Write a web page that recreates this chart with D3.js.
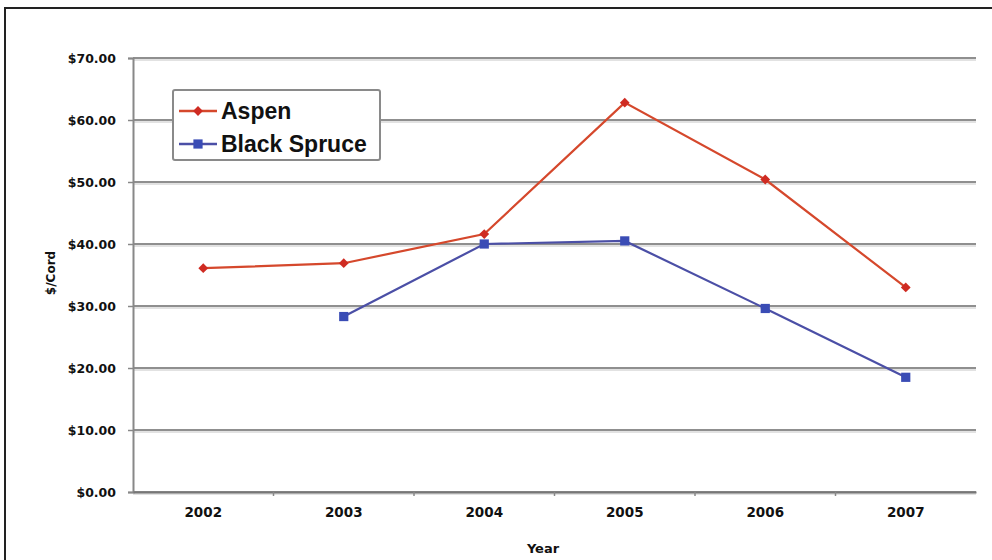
<!DOCTYPE html>
<html>
<head>
<meta charset="utf-8">
<script src="https://cdn.jsdelivr.net/npm/d3@7/dist/d3.min.js"></script>
<style>
  html, body { margin: 0; padding: 0; background: #fff; }
  svg { display: block; }
  text { font-family: "Liberation Sans", Arial, sans-serif; font-weight: bold; fill: #111; }
</style>
</head>
<body>
<svg id="chart" width="992" height="560"></svg>
<script>
// Stumpage price per cord, by year
const years = ["2002", "2003", "2004", "2005", "2006", "2007"];
const aspen = [36.1, 36.9, 41.6, 62.8, 50.4, 33.0];
const blackSpruce = [null, 28.3, 40.0, 40.5, 29.6, 18.5];
const yTicks = [0, 10, 20, 30, 40, 50, 60, 70];
const seriesNames = ["Aspen", "Black Spruce"];
const seriesColors = ["#d5482c", "#4b4fa6"];
const markerColors = ["#cf2b22", "#3a4cb5"];

const svg = d3.select("#chart");
const margin = { left: 133, right: 16, top: 58, bottom: 68 };
const W = 992, H = 560;
const tickFont = "'DejaVu Sans', Verdana, sans-serif";

// outer frame (runs off the right and bottom edges)
svg.append("path")
  .attr("d", "M5,562 L5,8 L994,8")
  .attr("fill", "none").attr("stroke", "#222").attr("stroke-width", 2);

const x = d3.scaleBand().domain(years)
  .range([margin.left, W - margin.right]);
const y = d3.scaleLinear().domain([0, 70])
  .range([H - margin.bottom, margin.top]);

// gridlines with a soft shadow
const grid = svg.append("g");
grid.selectAll("line.sh").data(yTicks).join("line")
  .attr("x1", margin.left).attr("x2", W - margin.right)
  .attr("y1", d => y(d) + 2).attr("y2", d => y(d) + 2)
  .attr("stroke", "#d8d8d8").attr("stroke-width", 1.5);
grid.selectAll("line.g").data(yTicks).join("line")
  .attr("x1", margin.left).attr("x2", W - margin.right)
  .attr("y1", d => y(d)).attr("y2", d => y(d))
  .attr("stroke", "#8f8f8f").attr("stroke-width", 2.2);

// y axis
const yAxis = d3.axisLeft(y).tickValues(yTicks)
  .tickFormat(d => "$" + d3.format(".2f")(d)).tickSize(5).tickPadding(12);
const gy = svg.append("g").attr("transform", `translate(${margin.left},0)`).call(yAxis);
gy.select(".domain").attr("stroke", "#888").attr("stroke-width", 2);
gy.selectAll(".tick line").attr("stroke", "#888").attr("stroke-width", 1.5);
gy.selectAll(".tick text").style("font-size", "12.5px").style("font-weight", "bold")
  .style("fill", "#111").style("font-family", tickFont);

// x axis: ticks between categories
const xAxis = d3.axisBottom(x).tickSize(0).tickPadding(15);
const gx = svg.append("g").attr("transform", `translate(0,${y(0)})`).call(xAxis);
gx.select(".domain").attr("stroke", "#777").attr("stroke-width", 2);
gx.selectAll(".tick text").style("font-size", "13.5px").style("font-weight", "bold")
  .style("fill", "#111").style("font-family", tickFont);
gx.selectAll("line.sep").data(years.slice(1)).join("line")
  .attr("x1", d => x(d)).attr("x2", d => x(d))
  .attr("y1", 0).attr("y2", 4)
  .attr("stroke", "#888").attr("stroke-width", 1.5);

// axis titles
svg.append("text").attr("x", 543).attr("y", 553)
  .attr("text-anchor", "middle").style("font-family", tickFont)
  .style("font-size", "13px").text("Year");
svg.append("text")
  .attr("transform", `translate(55,${(y(0) + y(70)) / 2 - 2}) rotate(-90)`)
  .attr("text-anchor", "middle").style("font-family", tickFont)
  .style("font-size", "12px").text("$/Cord");

// marker shapes: a small diamond (rotated square) and a square
function marker(sel, i) {
  if (i === 0) {
    sel.attr("d", d3.symbol().type(d3.symbolSquare).size(48)())
      .attr("transform", function () { return d3.select(this).attr("transform") + " rotate(45)"; });
  } else {
    sel.attr("d", d3.symbol().type(d3.symbolSquare).size(85)());
  }
  sel.attr("fill", markerColors[i]);
}

// series
const cx = d => x(d) + x.bandwidth() / 2;
const series = [aspen, blackSpruce];
const line = d3.line().defined(d => d.v != null).x(d => cx(d.year)).y(d => y(d.v));

series.forEach((vals, i) => {
  const pts = years.map((yr, j) => ({ year: yr, v: vals[j] }));
  svg.append("path").datum(pts)
    .attr("d", line).attr("fill", "none")
    .attr("stroke", seriesColors[i]).attr("stroke-width", 2.2);
  const valid = pts.filter(d => d.v != null);
  svg.selectAll(null).data(valid).join("path")
    .attr("transform", d => `translate(${cx(d.year)},${y(d.v)})`)
    .call(marker, i);
});

// legend
const lg = svg.append("g").attr("transform", "translate(173,90)");
lg.append("rect").attr("width", 207).attr("height", 70).attr("rx", 2)
  .attr("fill", "#fff").attr("stroke", "#8a8a8a").attr("stroke-width", 2);
seriesNames.forEach((name, i) => {
  const ly = 21 + i * 33;
  lg.append("line").attr("x1", 6).attr("x2", 44).attr("y1", ly).attr("y2", ly)
    .attr("stroke", seriesColors[i]).attr("stroke-width", 2.5);
  lg.append("path").attr("transform", `translate(25,${ly})`).call(marker, i);
  lg.append("text").attr("x", 48).attr("y", ly + 8).style("font-size", "23px")
    .style("letter-spacing", "0px").text(name);
});
</script>
</body>
</html>
